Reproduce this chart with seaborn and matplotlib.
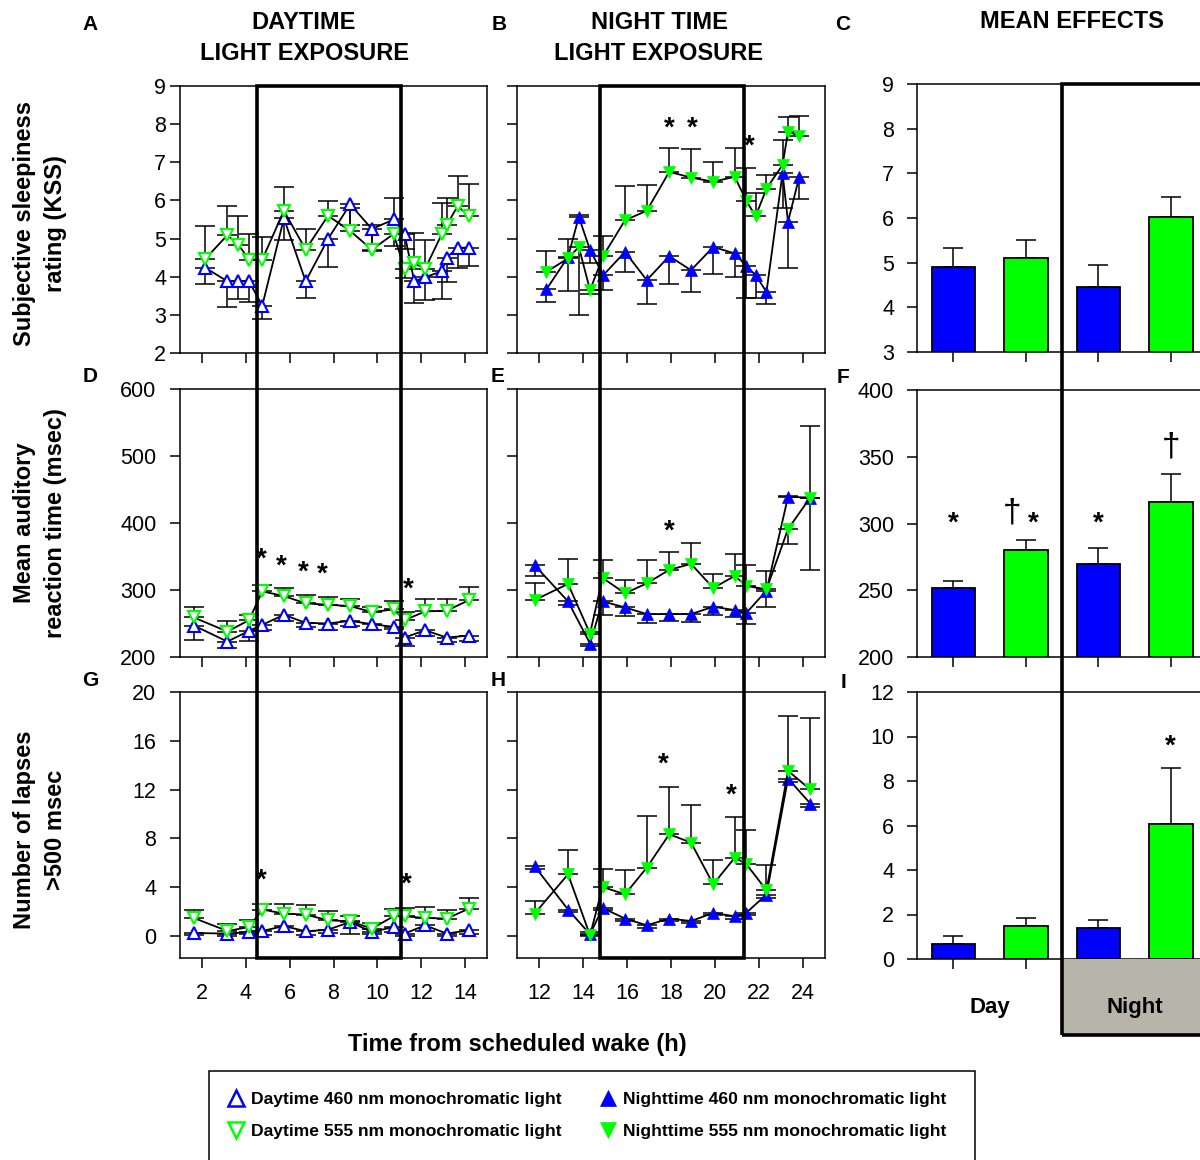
import numpy as np
import seaborn as sns
import matplotlib.pyplot as plt
from matplotlib.patches import Rectangle
from matplotlib.lines import Line2D

# ---- data ----
# KSS, daytime exposure (panel A)
kss_day_t = [2.14, 3.16, 3.66, 4.15, 4.75, 5.74, 6.73, 7.75, 8.76, 9.75, 10.74, 11.24, 11.68, 12.18, 12.94, 13.16, 13.66, 14.18]
kss_day_460 = [4.24, 3.88, 3.88, 3.88, 3.24, 5.53, 3.88, 4.99, 5.90, 5.25, 5.50, 5.13, 3.88, 3.99, 4.14, 4.50, 4.76, 4.76]
kss_day_555 = [4.46, 5.09, 4.84, 4.45, 4.45, 5.73, 4.71, 5.60, 5.20, 4.71, 5.12, 4.21, 4.35, 4.21, 5.12, 5.35, 5.85, 5.59]
# sem, sign = side of the mean the bar is drawn on (+ above, - below)
kss_day_460_err = [-0.42, -0.67, -0.47, -0.54, -0.36, -0.57, -0.43, -0.73, -0.55, -0.58, 0.57, -0.40, -0.57, -0.61, -0.73, -0.65, -0.53, -0.48]
kss_day_555_err = [0.87, 0.76, 0.76, 0.66, 0.58, 0.63, 0.55, 0.38, 0.60, 0.64, -0.31, -0.25, 0.80, 0.75, 0.82, 0.72, 0.80, 0.83]

# KSS, night exposure (panel B)
kss_night_t = [12.34, 13.32, 13.81, 14.32, 14.92, 15.91, 16.90, 17.92, 18.91, 19.92, 20.90, 21.42, 21.85, 22.34, 23.07, 23.32, 23.83]
kss_night_460 = [3.67, 4.52, 5.57, 4.70, 4.04, 4.65, 3.91, 4.54, 4.17, 4.78, 4.61, 4.28, 4.04, 3.60, 6.71, 5.44, 6.62]
kss_night_555 = [4.13, 4.48, 4.78, 3.65, 4.55, 5.48, 5.73, 6.75, 6.60, 6.49, 6.62, 5.99, 5.59, 6.31, 6.93, 7.80, 7.70]
kss_night_460_err = [-0.33, -0.89, 0.05, -0.35, -0.38, -0.52, -0.63, -0.74, -0.58, -0.70, -0.61, -0.83, -0.59, -0.32, -0.92, -1.21, -0.57]
kss_night_555_err = [0.55, 0.52, -1.79, -0.10, 0.51, 0.90, 0.67, 0.63, 0.76, 0.52, 0.76, 0.87, 0.61, 0.35, 0.65, 0.39, 0.52]

# PVT time points
pvt_day_t = [1.63, 3.16, 4.15, 4.75, 5.74, 6.73, 7.75, 8.76, 9.75, 10.74, 11.24, 12.18, 13.16, 14.18]
pvt_night_t = [11.80, 13.32, 14.32, 14.89, 15.91, 16.90, 17.92, 18.91, 19.92, 20.90, 21.43, 22.34, 23.32, 24.33]

# reaction time (panels D, E)
rt_day_460 = [247, 223, 239, 248, 263, 251, 250, 254, 249, 245, 229, 240, 229, 232]
rt_day_555 = [259, 238, 255, 298, 291, 280, 278, 276, 267, 271, 255, 268, 269, 285]
rt_day_460_err = [-22, -9, -15, -8, -10, -6, -9, -8, -8, -3, -12, -9, -7, -8]
rt_day_555_err = [16, 16, 8, 10, 12, 12, 11, 10, 8, 12, 12, 18, 17, 19]
rt_night_460 = [337, 283, 220, 283, 274, 264, 264, 264, 275, 270, 266, 299, 439, 438]
rt_night_555 = [285, 309, 235, 318, 295, 310, 330, 339, 303, 321, 306, 301, 391, 438]
rt_night_460_err = [-16, -5, -3, -20, -13, -13, -10, -12, -13, -11, -17, -24, 2, -108]
rt_night_555_err = [26, 38, 3, 27, 20, 35, 26, 31, 21, 33, 31, 27, -22, 107]

# lapses (panels G, H)
lapse_day_460 = [0.25, 0.20, 0.33, 0.41, 0.82, 0.39, 0.52, 1.15, 0.33, 0.74, 0.20, 0.88, 0.20, 0.47]
lapse_day_555 = [1.48, 0.41, 0.74, 2.17, 1.84, 1.76, 1.29, 1.21, 0.61, 1.62, 1.62, 1.48, 1.43, 2.25]
lapse_day_460_err = [-0.2, -0.2, -0.2, -0.3, -0.5, -0.3, -0.3, -1.0, -0.2, -0.4, -0.2, -0.5, -0.2, -0.3]
lapse_day_555_err = [0.63, 0.60, 0.55, 0.43, 0.76, 0.76, 0.76, 0.41, 0.46, 0.63, 0.68, 0.90, 0.74, 0.90]
lapse_night_460 = [5.72, 2.17, 0.14, 2.30, 1.43, 0.88, 1.43, 1.23, 1.89, 1.62, 1.92, 3.40, 12.91, 10.86]
lapse_night_555 = [1.84, 5.06, 0.06, 4.02, 3.42, 5.61, 8.34, 7.66, 4.24, 6.43, 5.88, 3.75, 13.54, 12.01]
lapse_night_460_err = [-0.2, -0.2, -0.1, -0.2, -0.2, -0.2, -0.2, -0.2, -0.2, -0.2, -0.2, -0.3, -0.3, -0.3]
lapse_night_555_err = [1.03, 2.03, 0.30, 1.51, 2.03, 4.21, 3.88, 3.06, 1.97, 3.33, 2.79, 2.05, 4.48, 5.87]

# mean effects (panels C, F, I)
conditions = ['Day 460', 'Day 555', 'Night 460', 'Night 555']
kss_mean = [4.91, 5.11, 4.46, 6.03]
kss_sem = [0.41, 0.39, 0.49, 0.43]
rt_mean = [251.7, 280.0, 269.8, 315.8]
rt_sem = [5.0, 7.5, 11.5, 21.0]
lapse_mean = [0.66, 1.50, 1.39, 6.08]
lapse_sem = [0.39, 0.34, 0.38, 2.50]

# light exposure windows (h from scheduled wake)
day_light = (4.5, 11.1)
night_light = (14.77, 21.33)

# significance marks (x, y)
kss_night_stars = [(17.9, 8.1), (18.96, 8.1), (21.54, 7.62)]
rt_day_stars = [(4.72, 357), (5.64, 347), (6.6, 339), (7.5, 336), (11.4, 313)]
rt_night_stars = [(17.9, 399)]
lapse_day_stars = [(4.72, 5.2), (11.3, 4.9)]
lapse_night_stars = [(17.63, 14.7), (20.76, 12.2)]
rt_mean_stars = [(0, 306), (1.1, 306), (2, 306)]
rt_mean_daggers = [(0.81, 308), (3, 357)]
lapse_mean_stars = [(3, 9.93)]

BLUE = '#0000ff'
GREEN = '#00ff00'
GRAY = '#b7b5aa'
W, H = 1200, 1160

sns.set_style('ticks')
plt.rcParams['font.family'] = ['Liberation Sans', 'DejaVu Sans']
plt.rcParams.update({
    'axes.edgecolor': 'black', 'axes.linewidth': 1.1,
    'xtick.color': 'black', 'ytick.color': 'black', 'text.color': 'black',
    'xtick.major.size': 7, 'ytick.major.size': 7,
    'xtick.major.width': 1.1, 'ytick.major.width': 1.1,
    'xtick.major.pad': 3, 'ytick.major.pad': 3,
    'xtick.labelsize': 15.5, 'ytick.labelsize': 15.5,
})

fig = plt.figure(figsize=(12, 11.6), dpi=100)


def fx(x):
    return x / W


def fy(y):
    return 1 - y / H


def add_ax(l, t, r, b):
    return fig.add_axes([fx(l), fy(b), (r - l) / W, (b - t) / H])


axA = add_ax(180, 86, 487, 353)
axB = add_ax(517, 86, 825, 353)
axC = add_ax(917, 84, 1207, 352)
axD = add_ax(180, 389, 487, 657)
axE = add_ax(517, 389, 825, 657)
axF = add_ax(917, 390, 1207, 657)
axG = add_ax(180, 692, 487, 958)
axH = add_ax(517, 692, 825, 958)
axI = add_ax(917, 692, 1207, 959)


def time_panel(ax, t, y460, y555, e460, e555, filled):
    for y, err, col, mk in [(y460, e460, BLUE, '^'), (y555, e555, GREEN, 'v')]:
        err = np.asarray(err, dtype=float)
        ax.errorbar(t, y, yerr=[np.clip(-err, 0, None), np.clip(err, 0, None)],
                    fmt='none', ecolor='black', elinewidth=1.1, capsize=7.5,
                    capthick=1.1, zorder=2)
        sns.lineplot(x=t, y=y, ax=ax, color='black', linewidth=1.3, errorbar=None,
                     marker=mk, markersize=8.5,
                     markerfacecolor=col if filled else 'white',
                     markeredgecolor=col, markeredgewidth=0.5 if filled else 1.5,
                     zorder=3)
    ax.set_xlabel('')
    ax.set_ylabel('')


def marks(ax, pts, sym='*', size=20):
    for x, y in pts:
        ax.annotate(sym, (x, y), xytext=(0, -0.55 * size), textcoords='offset points',
                    ha='center', va='baseline', fontsize=size, fontweight='bold')


time_panel(axA, kss_day_t, kss_day_460, kss_day_555, kss_day_460_err, kss_day_555_err, False)
time_panel(axB, kss_night_t, kss_night_460, kss_night_555, kss_night_460_err, kss_night_555_err, True)
time_panel(axD, pvt_day_t, rt_day_460, rt_day_555, rt_day_460_err, rt_day_555_err, False)
time_panel(axE, pvt_night_t, rt_night_460, rt_night_555, rt_night_460_err, rt_night_555_err, True)
time_panel(axG, pvt_day_t, lapse_day_460, lapse_day_555, lapse_day_460_err, lapse_day_555_err, False)
time_panel(axH, pvt_night_t, lapse_night_460, lapse_night_555, lapse_night_460_err, lapse_night_555_err, True)

for ax in (axA, axD, axG):
    ax.set_xlim(1, 15)
    ax.set_xticks(range(2, 15, 2))
for ax in (axB, axE, axH):
    ax.set_xlim(11, 25)
    ax.set_xticks(range(12, 25, 2))
for ax in (axA, axB):
    ax.set_ylim(2, 9)
    ax.set_yticks(range(2, 10))
for ax in (axD, axE):
    ax.set_ylim(200, 600)
    ax.set_yticks(range(200, 601, 100))
for ax in (axG, axH):
    ax.set_ylim(-1.8, 20)
    ax.set_yticks(range(0, 21, 4))
    ax.tick_params(axis='x', pad=11)
for ax in (axA, axB, axD, axE):
    ax.tick_params(labelbottom=False)
for ax in (axB, axE, axH):
    ax.tick_params(labelleft=False)
for ax in (axD, axG):
    ax.tick_params(axis='y', pad=10)

marks(axB, kss_night_stars)
marks(axD, rt_day_stars)
marks(axE, rt_night_stars)
marks(axG, lapse_day_stars)
marks(axH, lapse_night_stars)

# mean effects bars
palette = dict(zip(conditions, [BLUE, GREEN, BLUE, GREEN]))
for ax, m, s, lim, step in [(axC, kss_mean, kss_sem, (3, 9), 1),
                            (axF, rt_mean, rt_sem, (200, 400), 50),
                            (axI, lapse_mean, lapse_sem, (0, 12), 2)]:
    sns.barplot(x=conditions, y=m, hue=conditions, palette=palette, legend=False,
                saturation=1, width=0.6, edgecolor='black', linewidth=1.3,
                errorbar=None, ax=ax, zorder=2)
    ax.errorbar(range(4), m, yerr=[[0] * 4, s], fmt='none', ecolor='black',
                elinewidth=1.1, capsize=7.5, capthick=1.1, zorder=1)
    ax.set_xlim(-0.5, 3.5)
    ax.set_ylim(*lim)
    ax.set_yticks(np.arange(lim[0], lim[1] + step / 2, step))
    ax.tick_params(labelbottom=False)
    ax.tick_params(axis='y', pad=9.5)
    ax.set_xlabel('')
    ax.set_ylabel('')

marks(axF, rt_mean_stars)
for x, y in rt_mean_daggers:
    axF.text(x, y, '\u2020', ha='center', va='center', fontsize=24)
marks(axI, lapse_mean_stars)


def fig_x(ax, x):
    disp = ax.transData.transform((x, ax.get_ylim()[0]))
    return fig.transFigure.inverted().transform(disp)[0]


# light exposure boxes
for top_ax, bot_ax, (t0, t1) in [(axA, axG, day_light), (axB, axH, night_light)]:
    x0, x1 = fig_x(top_ax, t0), fig_x(top_ax, t1)
    y0, y1 = bot_ax.get_position().y0, top_ax.get_position().y1
    fig.add_artist(Rectangle((x0, y0), x1 - x0, y1 - y0, transform=fig.transFigure,
                             fill=False, ec='black', lw=2.6, zorder=5))

# night block in mean effects column
nx0 = fig_x(axC, 1.5)
ny0 = fy(1035)
fig.add_artist(Rectangle((nx0, ny0), 1.05 - nx0, axI.get_position().y0 - ny0,
                         transform=fig.transFigure, fc=GRAY, ec='none', zorder=1))
fig.add_artist(Rectangle((nx0, ny0), 1.05 - nx0, axC.get_position().y1 - ny0,
                         transform=fig.transFigure, fill=False, ec='black', lw=2.6, zorder=5))
fig.text(fig_x(axI, 0.5), fy(1008), 'Day', ha='center', va='center', fontsize=16, fontweight='bold')
fig.text(fig_x(axI, 2.5), fy(1008), 'Night', ha='center', va='center', fontsize=16, fontweight='bold')

# texts
for lab, x, y in [('A', 90, 25), ('B', 499, 25), ('C', 843, 25),
                  ('D', 90, 376), ('E', 498, 377), ('F', 843, 378),
                  ('G', 90, 680), ('H', 498, 681), ('I', 843, 683)]:
    fig.text(fx(x), fy(y), lab, ha='center', va='center', fontsize=15, fontweight='bold')

head = dict(ha='center', va='center', fontsize=17, fontweight='bold', linespacing=1.45)
fig.text(fx(304), fy(38), 'DAYTIME\nLIGHT EXPOSURE', **head)
fig.text(fx(659), fy(38), 'NIGHT TIME\nLIGHT EXPOSURE', **head)
fig.text(fx(1072), fy(22), 'MEAN EFFECTS', **head)

ylab = dict(ha='center', va='center', fontsize=17, fontweight='bold', rotation=90,
            linespacing=1.45, multialignment='center')
fig.text(fx(40), fy(224), 'Subjective sleepiness\nrating (KSS)', **ylab)
fig.text(fx(40), fy(523), 'Mean auditory\nreaction time (msec)', **ylab)
fig.text(fx(40), fy(830), 'Number of lapses\n>500 msec', **ylab)
fig.text(fx(517), fy(1045), 'Time from scheduled wake (h)', ha='center', va='center',
         fontsize=17, fontweight='bold')

# legend
fig.add_artist(Rectangle((fx(209), fy(1185)), (975 - 209) / W, (1185 - 1071) / H,
                         transform=fig.transFigure, fill=False, ec='black', lw=1.1))
leg_font = dict(family=['Liberation Sans Narrow', 'Liberation Sans'], weight='bold', size=12.6)


def proxy(mk, col, filled):
    return Line2D([], [], linestyle='none', marker=mk, markersize=12,
                  markerfacecolor=col if filled else 'white', markeredgecolor=col,
                  markeredgewidth=0.5 if filled else 1.8)


legend_cols = [
    (227, [proxy('^', BLUE, False), proxy('v', GREEN, False)],
     ['Daytime 460 nm monochromatic light', 'Daytime 555 nm monochromatic light']),
    (599, [proxy('^', BLUE, True), proxy('v', GREEN, True)],
     ['Nighttime 460 nm monochromatic light', 'Nighttime 555 nm monochromatic light']),
]
for x0, hs, labs in legend_cols:
    fig.legend(handles=hs, labels=labs, loc='upper left', bbox_to_anchor=(fx(x0), fy(1092)),
               frameon=False, prop=leg_font, handlelength=1.0, handletextpad=0.35,
               borderpad=0, borderaxespad=0, labelspacing=0.95)

fig.savefig('out.png', dpi=100)
